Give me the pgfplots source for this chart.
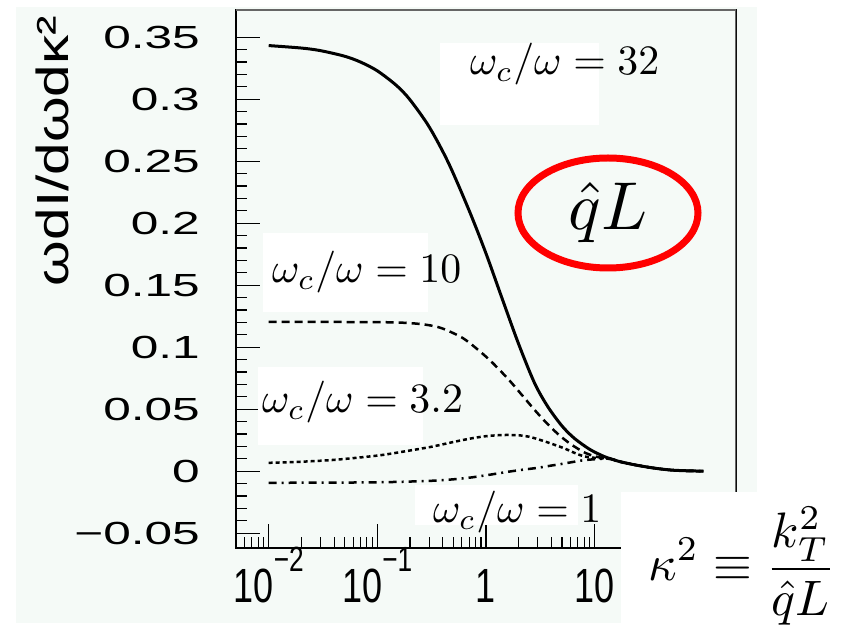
\documentclass[border=0pt]{standalone}
\usepackage{fontspec}
\usepackage{pgfplots}
\pgfplotsset{compat=1.18}
\newfontfamily\ytickfont[FakeStretch=1.55]{Liberation Sans}
\newfontfamily\xtickfont[FakeStretch=0.75]{Liberation Sans}
\newfontfamily\ylabfont[FakeStretch=1.3]{Liberation Sans}
\definecolor{canvas}{RGB}{245,250,247}

\begin{document}
\begin{tikzpicture}
\useasboundingbox (0,0) rectangle (841bp,638bp);
\fill[white] (0,0) rectangle (841bp,638bp);
\fill[canvas] (16bp,15bp) rectangle (757bp,631bp);

\begin{axis}[
  at={(236bp,90bp)}, anchor=south west,
  scale only axis, width=500bp, height=538bp,
  xmode=log, xmin=0.005, xmax=200,
  ymin=-0.062, ymax=0.372,
  axis background/.style={fill=canvas},
  axis line style={line width=1.5bp, black},
  tick align=inside, xtick pos=left, ytick pos=left,
  major tick length=24bp, minor tick length=11bp,
  every tick/.style={black, line width=1.2bp},
  xtick={0.01,0.1,1,10},
  minor xtick={0.006,0.007,0.008,0.009,0.02,0.03,0.04,0.05,0.06,0.07,0.08,0.09,0.2,0.3,0.4,0.5,0.6,0.7,0.8,0.9,2,3,4,5,6,7,8,9,20,30,40,50,60,70,80,90,100},
  xticklabels={
    {10\raisebox{31bp}{\fontsize{35bp}{35bp}\selectfont −2}},
    {10\raisebox{31bp}{\fontsize{35bp}{35bp}\selectfont −1}},
    {1},{10}},
  xticklabel style={font={\xtickfont\fontsize{48bp}{48bp}\selectfont}, anchor=base, inner sep=0pt, yshift=-55bp},
  ytick={-0.05,0,0.05,0.1,0.15,0.2,0.25,0.3,0.35},
  yticklabels={−0.05,0,0.05,0.1,0.15,0.2,0.25,0.3,0.35},
  minor y tick num=4,
  yticklabel style={font={\ytickfont\fontsize{32bp}{32bp}\selectfont}, anchor=east, inner sep=0pt, xshift=-36bp},
  ylabel={ωdI/dωdκ²},
  ylabel style={font={\ylabfont\fontsize{45bp}{45bp}\selectfont}, at={(rel axis cs:-0.368,0.738)}, anchor=center, inner sep=0pt},
]
% omega_c/omega = 32
\addplot[black, line width=3bp, smooth] table {
0.01 0.3433
0.02 0.3413
0.03 0.3392
0.05 0.3347
0.07 0.3300
0.1 0.3229
0.15 0.3111
0.2 0.2995
0.3 0.2777
0.45 0.2489
0.7 0.2102
1.0 0.1756
1.4 0.1398
2.0 0.1024
2.8 0.0710
3.7 0.0521
5.0 0.0365
6.5 0.0265
9 0.0176
12 0.0121
14 0.0100
17 0.0077
24 0.0049
35 0.0025
50 0.0009
70 0.0003
100 0.0
};
% omega_c/omega = 10
\addplot[black, line width=2.5bp, smooth, dash pattern=on 8bp off 5bp] table {
0.01 0.1204
0.1 0.1202
0.2 0.1194
0.3 0.1177
0.4 0.1150
0.6 0.1078
0.8 0.0996
1.1 0.0890
1.6 0.0743
2.2 0.0602
2.8 0.0494
3.5 0.0401
4.6 0.0299
6.0 0.0219
8.0 0.0152
10 0.0120
12 0.0106
14 0.0099
17 0.0077
24 0.0049
35 0.0025
50 0.0009
70 0.0003
100 0.0
};
% omega_c/omega = 3.2
\addplot[black, line width=2.5bp, smooth, dash pattern=on 4bp off 3bp] table {
0.01 0.0067
0.02 0.0076
0.0373 0.0089
0.06 0.0105
0.108 0.0129
0.18 0.0160
0.312 0.0196
0.5 0.0235
0.73 0.0264
1.0 0.0282
1.4 0.0291
1.95 0.0290
2.5 0.0277
3.2 0.0250
4.2 0.0215
5.28 0.0183
6.5 0.0148
8.1 0.0118
10.5 0.0106
14 0.0099
17 0.0077
24 0.0049
35 0.0025
50 0.0009
70 0.0003
100 0.0
};
% omega_c/omega = 1
\addplot[black, line width=2.5bp, smooth, dash pattern=on 8bp off 5bp on 2bp off 5bp] table {
0.01 -0.0094
0.03 -0.0093
0.075 -0.0091
0.15 -0.0087
0.312 -0.0078
0.5 -0.0066
0.73 -0.0051
1.1 -0.0028
1.6 -0.0005
2.2 0.0012
3.0 0.0027
4.0 0.0045
5.28 0.0062
6.5 0.0076
8.1 0.0089
10.5 0.0097
14 0.0099
17 0.0077
24 0.0049
35 0.0025
50 0.0009
70 0.0003
100 0.0
};
% lighter frame on the top and right sides
\draw[black!60, line width=1.5bp] (rel axis cs:0,1) -- (rel axis cs:1,1) -- (rel axis cs:1,0);
\end{axis}

% curve labels on white patches
\fill[white] (440bp,513bp) rectangle (599bp,595bp);
\fill[white] (263bp,326bp) rectangle (428bp,405bp);
\fill[white] (258bp,193bp) rectangle (423bp,271bp);
\fill[white] (415bp,113bp) rectangle (578bp,153bp);
\fill[white] (621bp,0bp) rectangle (841bp,146bp);

\begin{scope}[every node/.style={inner sep=0pt, anchor=base west}]
\node at (470bp,563bp) {\scalebox{4.2}{$\omega_c/\omega = 32$}};
\node at (272bp,355bp) {\scalebox{4.2}{$\omega_c/\omega = 10$}};
\node at (262bp,225bp) {\scalebox{4.2}{$\omega_c/\omega = 3.2$}};
\node at (433bp,115bp) {\scalebox{4.2}{$\omega_c/\omega = 1$}};
% scaled variable
\node at (648bp,57bp) {\scalebox{5}{$\displaystyle \kappa^2 \equiv \frac{k_T^2}{\hat{q}L}$}};
\end{scope}

% transport coefficient marker
\draw[red, line width=7bp] (608bp,425bp) ellipse [x radius=90bp, y radius=55bp];
\node[inner sep=0pt] at (608bp,425bp) {\scalebox{6.8}{$\hat{q}L$}};
\end{tikzpicture}
\end{document}
